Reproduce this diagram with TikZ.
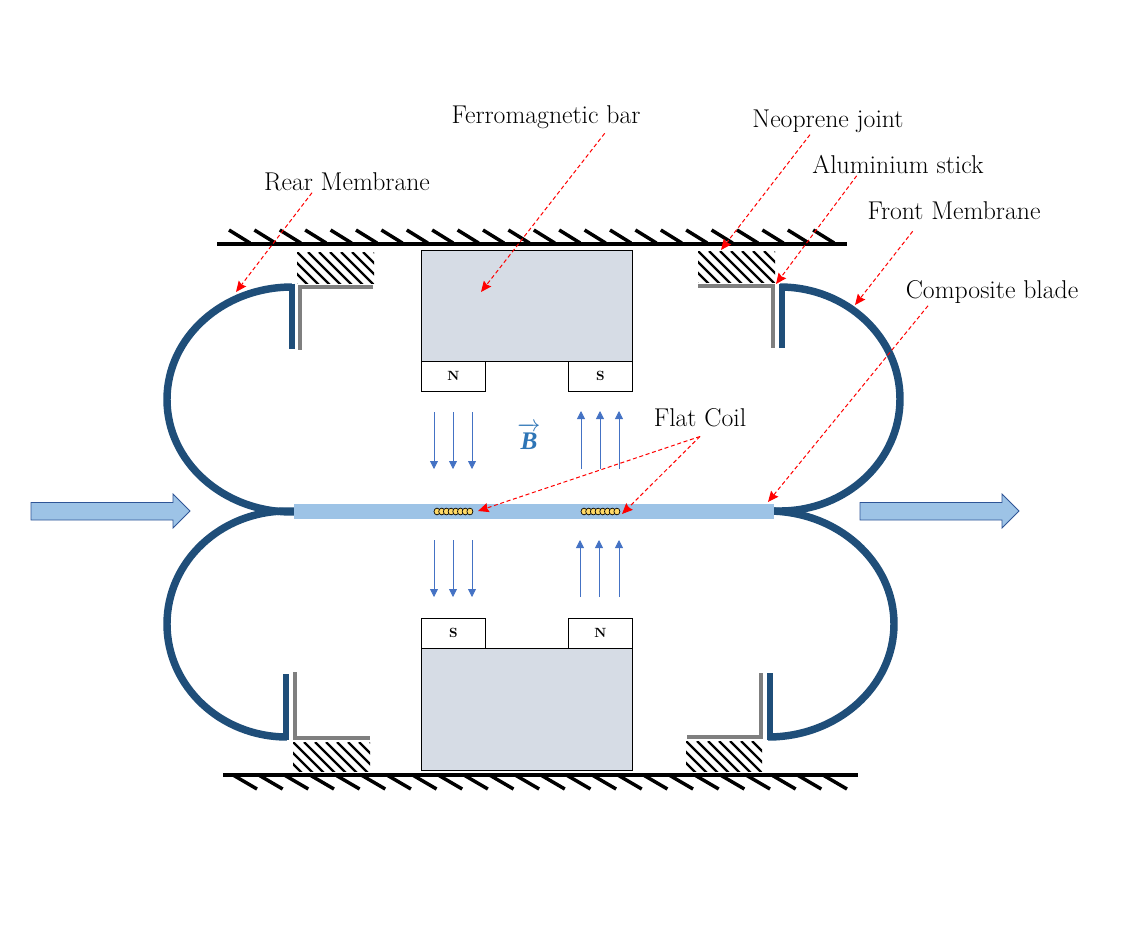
\documentclass[tikz,border=0pt]{standalone}
\usepackage{fontspec}
\newfontfamily\bfont{Liberation Serif}
\usetikzlibrary{arrows.meta,shapes.arrows}
\definecolor{memb}{HTML}{1F4E79}
\definecolor{blade}{HTML}{9DC3E6}
\definecolor{bar}{HTML}{D6DCE5}
\definecolor{field}{HTML}{4472C4}
\definecolor{bvec}{HTML}{2E75B6}
\definecolor{coil}{HTML}{FFD966}
\definecolor{stick}{HTML}{7F7F7F}
\definecolor{arrowedge}{HTML}{2F5597}
\tikzset{
  label text/.style={font=\fontsize{19.3}{22}\selectfont,inner sep=0pt},
  ground/.style={black,line width=3pt},
  tick/.style={black,line width=2.6pt},
  membrane/.style={memb,line width=5.6pt},
  stub/.style={memb,line width=4.5pt},
  sticks/.style={stick,line width=3pt,line cap=butt,line join=miter},
  fieldline/.style={field,line width=0.6pt,-{Triangle[length=6pt,width=6pt]}},
  callout/.style={red,line width=0.75pt,dash pattern=on 3pt off 2pt,-{Stealth[length=8pt,width=7pt,inset=1pt]}},
  barbox/.style={draw=black,fill=bar,line width=0.6pt,inner sep=0pt,anchor=north west,minimum width=158.25pt},
  magnet/.style={draw=black,fill=white,line width=0.6pt,inner sep=0pt,anchor=north west,minimum width=48pt,minimum height=22.5pt,font=\fontsize{10}{11}\selectfont\bfseries},
  bigarrow/.style={draw=arrowedge,fill=blade,line width=0.6pt},
  coilturn/.style={draw=black,fill=coil,line width=0.5pt}
}
\newcommand{\hatchbox}[4]{%
  \begin{scope}
    \clip (#1,#2) rectangle (#3,#4);
    \foreach \d in {-44,-33,...,88}{
      \draw[black,line width=1.7pt] (#1+\d,#2) -- (#1+\d+40,#2+40);
    }
  \end{scope}}
\newcommand{\vecB}{\vbox{\ialign{##\crcr\rightarrowfill\crcr\noalign{\kern0.8pt\nointerlineskip}\hfil\hbox{\bfont\bfseries\itshape B}\hfil\crcr}}}
\begin{document}
\begin{tikzpicture}[x=0.75pt,y=-0.75pt]
\useasboundingbox (0,0) rectangle (1140,940);
% ground lines
\draw[ground] (217,244) coordinate (g1a) -- (847,244) coordinate (g1b);
\foreach \k in {0,...,23}{
  \draw[tick] (229+25.4*\k,230) -- (250+25.4*\k,243);
}
\draw[ground] (223,774.5) coordinate (g2a) -- (858,774.5) coordinate (g2b);
\foreach \k in {0,...,23}{
  \draw[tick] (233+25.65*\k,775) -- (257+25.65*\k,789);
}
% hatch
\hatchbox{297}{252}{374}{283}
\hatchbox{698}{251}{775}{282}
\hatchbox{293}{742}{370}{771}
\hatchbox{686}{741}{762}{771}
% sticks
\draw[sticks] (373,287) -- (300,287) -- (300,350);
\draw[sticks] (698,286) -- (773,286) -- (773,348);
\draw[sticks] (295,672) -- (295,738) -- (370,738);
\draw[sticks] (687,737) -- (761,737) -- (761,673);
% magnet assembly
\node[barbox,minimum height=83.25pt] (topbar) at (421,250) {};
\node[magnet] (topN) at (421,361) {N};
\node[magnet] (topS) at (568,361) {S};
\node[barbox,minimum height=91.5pt] (botbar) at (421,648) {};
\node[magnet] (botS) at (421,618) {S};
\node[magnet] (botN) at (568,618) {N};
% membranes
\draw[membrane] (292,287) arc[start angle=270,end angle=90,x radius=125,y radius=112.5] -- (296,512);
\draw[membrane] (780,287) arc[start angle=-90,end angle=90,x radius=120,y radius=112] -- (772,511);
\draw[membrane] (287,737) arc[start angle=90,end angle=270,x radius=120,y radius=113] -- (296,511);
\draw[membrane] (768,737) arc[start angle=90,end angle=-90,x radius=126,y radius=113];
\draw[stub] (292,283.5) -- (292,349);
\draw[stub] (782,283.5) -- (782,348);
\draw[stub] (286,740) -- (286,674);
\draw[stub] (770,740) -- (770,673);
% blade
\fill[blade] (294,504) rectangle (774,519);
% field arrows
\foreach \x in {434,453,472}{
  \draw[fieldline] (\x,412) -- (\x,469);
  \draw[fieldline] (\x,540) -- (\x,597);
}
\foreach \x in {581,600,619}{
  \draw[fieldline] (\x,469) -- (\x,411);
}
\foreach \x in {580,599,619}{
  \draw[fieldline] (\x,597) -- (\x,540);
}
\node[text=bvec,inner sep=0pt,font=\fontsize{19}{22}\selectfont] (bfield) at (529,436) {\vecB};
% coils
\foreach \k in {0,...,7}{
  \draw[coilturn] (437+4.7*\k,511.5) ellipse[x radius=3,y radius=3.4];
  \draw[coilturn] (584+4.7*\k,511.5) ellipse[x radius=3,y radius=3.4];
}
% big arrows
\draw[bigarrow] (31,502.5) -- (173,502.5) -- (173,494) -- (190,511) -- (173,528) -- (173,520) -- (31,520) -- cycle;
\draw[bigarrow] (860,502.5) -- (1002,502.5) -- (1002,494) -- (1019,511) -- (1002,528) -- (1002,520) -- (860,520) -- cycle;
% labels
\node[label text] (lferro) at (546,117) {Ferromagnetic bar};
\node[label text] (lneo) at (828,121) {Neoprene joint};
\node[label text] (lalu) at (898,165) {Aluminium stick};
\node[label text] (lrear) at (347,182) {Rear Membrane};
\node[label text] (lfront) at (954,211) {Front Membrane};
\node[label text] (lcomp) at (992,292) {Composite blade};
\node[label text] (lcoil) at (700,418) {Flat Coil};
% callout tips
\coordinate (trear) at (236,292);
\coordinate (tferro) at (481,292);
\coordinate (tneo) at (721,250);
\coordinate (talu) at (776,284);
\coordinate (tfront) at (855,305);
\coordinate (tcomp) at (768,502);
\coordinate (tcoila) at (478,511);
\coordinate (tcoilb) at (622,514);
% callouts
\draw[callout] ([xshift=-26.25pt,yshift=-1pt]lrear.south) -- (trear);
\draw[callout] ([xshift=44pt,yshift=-3.4pt]lferro.south) -- (tferro);
\draw[callout] ([xshift=-13.5pt,yshift=-1.5pt]lneo.south) -- (tneo);
\draw[callout] ([xshift=-31pt,yshift=-1pt]lalu.south) -- (talu);
\draw[callout] ([xshift=-31pt,yshift=-8.25pt]lfront.south) -- (tfront);
\draw[callout] ([xshift=-48pt,yshift=-1.5pt]lcomp.south) -- (tcomp);
\draw[callout] ([yshift=-6.75pt]lcoil.south) -- (tcoila);
\draw[callout] ([yshift=-6.75pt]lcoil.south) -- (tcoilb);
\end{tikzpicture}
\end{document}
